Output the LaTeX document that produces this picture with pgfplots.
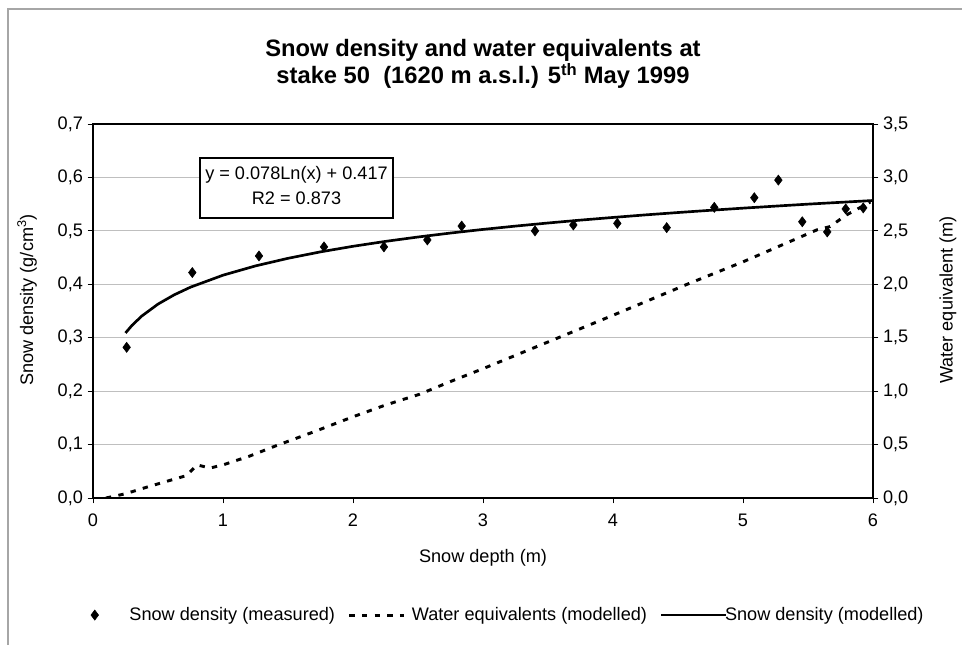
\documentclass[border=0pt]{standalone}
\usepackage{fontspec}
\setmainfont{Liberation Sans}
\usepackage{pgfplots}
\pgfplotsset{compat=1.18}
\newcommand{\nf}{\fontsize{13.6}{16}\selectfont}
\pgfplotsset{
  legdiamond/.style={legend image code/.code={\path[draw=none] (-6pt,0pt) -- (24pt,0pt); \draw[##1] plot coordinates {(0pt,0pt)};}},
  legdash/.style={legend image code/.code={\path[draw=none] (0pt,0pt) -- (45pt,0pt); \draw[##1] (0pt,0pt) -- (41pt,0pt);}},
  legsolid/.style={legend image code/.code={\draw[##1] (0pt,0pt) -- (45pt,0pt); \draw[##1, overlay] (44pt,0pt) -- (49pt,0pt);}},
}
\begin{document}
\begin{tikzpicture}[x=0.75pt,y=0.75pt]
\useasboundingbox (-93,-147) rectangle (869,498);
\draw[gray!70, line width=0.8pt] (-85,-147) -- (-85,489) -- (869,489);
\begin{axis}[
  at={(0,0)}, anchor=south west, scale only axis,
  width=585pt, height=280.5pt,
  xmin=0, xmax=6, ymin=0, ymax=0.7,
  xtick={0,1,2,3,4,5,6},
  ytick={0,0.1,0.2,0.3,0.4,0.5,0.6,0.7},
  tick pos=left, tick align=outside, major tick length=4pt,
  axis line style={line width=0.8pt},
  tick style={black, line width=0.6pt},
  ymajorgrids, grid style={gray!50, line width=0.7pt},
  /pgf/number format/assume math mode=true,
  ticklabel style={font=\nf},
  xticklabel style={yshift=-4.5pt},
  yticklabel style={/pgf/number format/fixed, /pgf/number format/fixed zerofill,
     /pgf/number format/precision=1, /pgf/number format/use comma},
  legend columns=3,
  legend style={at={(axis description cs:-0.008,-0.313)}, anchor=west,
     draw=none, inner sep=0pt, outer sep=0pt, font=\nf,
     /tikz/every even column/.append style={column sep=7.5pt}},
  legend cell align=left,
]
\addplot[only marks, mark=diamond*, mark size=3.8pt, black, legdiamond]
  coordinates {
  (0.259,0.282) (0.764,0.422) (1.277,0.453) (1.777,0.470) (2.238,0.470)
  (2.572,0.483) (2.836,0.509) (3.400,0.500) (3.695,0.511) (4.033,0.514)
  (4.413,0.506) (4.779,0.544) (5.087,0.562) (5.272,0.595) (5.456,0.517)
  (5.648,0.498) (5.790,0.541) (5.925,0.543)};
\addlegendentry{Snow density (measured)}
\addlegendimage{black, line width=2.2pt, dash pattern=on 4pt off 5.5pt, legdash}
\addlegendentry{Water equivalents (modelled)}
\addplot[black, line width=2pt, no marks, legsolid]
  coordinates {
  (0.25,0.3089) (0.30,0.3231) (0.375,0.3405) (0.5,0.3629) (0.625,0.3803)
  (0.75,0.3946) (1.0,0.4170) (1.25,0.4344) (1.5,0.4486) (1.75,0.4607)
  (2.0,0.4711) (2.25,0.4803) (2.5,0.4885) (2.75,0.4959) (3.0,0.5027)
  (3.25,0.5089) (3.5,0.5147) (3.75,0.5201) (4.0,0.5251) (4.25,0.5299)
  (4.5,0.5343) (4.75,0.5385) (5.0,0.5425) (5.25,0.5463) (5.5,0.5500)
  (5.75,0.5534) (6.0,0.5568)};
\addlegendentry{Snow density (modelled)}
\end{axis}
\begin{axis}[
  at={(0,0)}, anchor=south west, scale only axis,
  width=585pt, height=280.5pt,
  xmin=0, xmax=6, ymin=0, ymax=3.5,
  axis y line*=right, axis x line=none,
  ytick={0,0.5,1,1.5,2,2.5,3,3.5},
  tick align=outside, major tick length=4pt,
  axis line style={line width=0.8pt},
  tick style={black, line width=0.6pt},
  /pgf/number format/assume math mode=true,
  ticklabel style={font=\nf},
  yticklabel style={/pgf/number format/fixed, /pgf/number format/fixed zerofill,
     /pgf/number format/precision=1, /pgf/number format/use comma},
]
\addplot[black, line width=2.2pt, dash pattern=on 4pt off 5.5pt, no marks]
  coordinates {
  (0.10,0.00) (0.25,0.04) (0.41,0.10) (0.55,0.15) (0.72,0.21) (0.80,0.31)
  (0.90,0.28) (1.00,0.31) (1.20,0.39) (1.41,0.49) (1.70,0.62) (2.00,0.76)
  (2.25,0.87) (2.51,0.97) (2.75,1.09) (3.00,1.21) (3.50,1.46) (4.00,1.71)
  (4.59,2.01) (5.00,2.21) (5.57,2.51) (5.67,2.54) (5.79,2.645) (5.98,2.77)};
\end{axis}
\node[font=\bfseries\fontsize{17.8}{21}\selectfont] at (390,448) {Snow density and water equivalents at};
\node[font=\bfseries\fontsize{17.8}{21}\selectfont] at (390,422) {stake 50~ (1620 m a.s.l.) 5\textsuperscript{th} May 1999};
\node[draw, line width=0.8pt, fill=white, minimum width=144.75pt, minimum height=45pt] at (203.5,310) {};
\node[font=\nf] at (203.5,323) {y = 0.078Ln(x) + 0.417};
\node[font=\nf] at (203.5,300) {R2 = 0.873};
\node[font=\nf, rotate=90] at (-66,198) {Snow density (g/cm\textsuperscript{3})};
\node[font=\nf, rotate=90] at (855,198) {Water equivalent (m)};
\node[font=\nf] at (390,-60) {Snow depth (m)};
\end{tikzpicture}
\end{document}
